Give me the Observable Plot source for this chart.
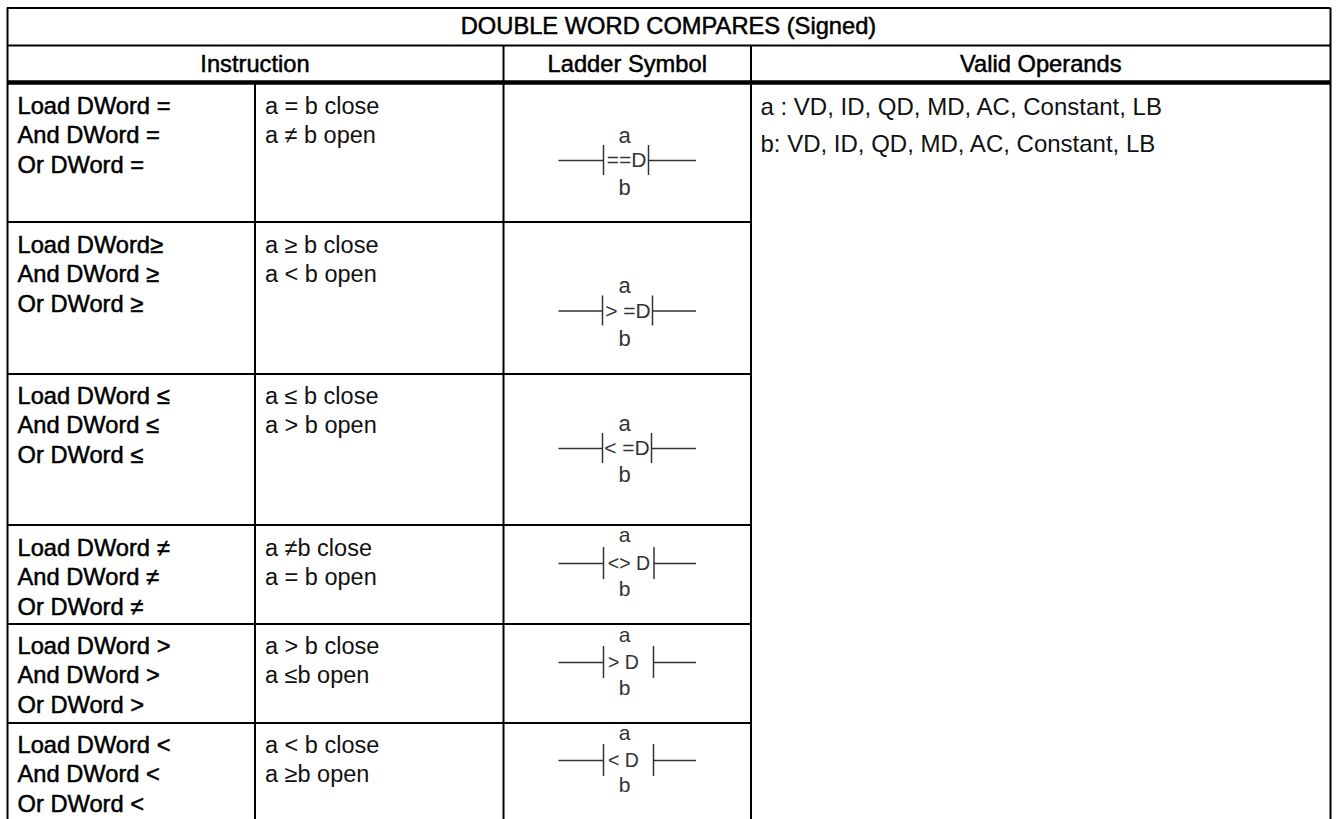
<!DOCTYPE html>
<html><head><meta charset="utf-8">
<script src="https://cdn.jsdelivr.net/npm/d3@7"></script>
<script src="https://cdn.jsdelivr.net/npm/@observablehq/plot@0.6"></script>
<style>html,body{margin:0;padding:0;background:#fff;overflow:hidden}svg{display:block}</style>
</head><body><div id="chart"></div>
<script>
const tableTitle = "DOUBLE WORD COMPARES (Signed)";
const headers = ["Instruction", "Ladder Symbol", "Valid Operands"];
const instructions = [
  ["Load DWord =", "And DWord =", "Or DWord ="],
  ["Load DWord≥", "And DWord ≥", "Or DWord ≥"],
  ["Load DWord ≤", "And DWord ≤", "Or DWord ≤"],
  ["Load DWord ≠", "And DWord ≠", "Or DWord ≠"],
  ["Load DWord >", "And DWord >", "Or DWord >"],
  ["Load DWord <", "And DWord <", "Or DWord <"]
];
const conditions = [
  ["a = b close", "a ≠ b open"],
  ["a ≥ b close", "a < b open"],
  ["a ≤ b close", "a > b open"],
  ["a ≠b close", "a = b open"],
  ["a > b close", "a ≤b open"],
  ["a < b close", "a ≥b open"]
];
const ladderSymbols = ["==D", "> =D", "< =D", "<> D", "> D", "< D"];
const operands = ["a : VD, ID, QD, MD, AC, Constant, LB", "b: VD, ID, QD, MD, AC, Constant, LB"];

// table layout: pixel edges of grid lines and offsets inside cells
const colEdges = [7, 254.5, 503, 750.5, 1330];
const rowEdges = [7.5, 45, 82, 221.5, 373.5, 524.5, 623.5, 722.5, 822];
const textTop = [24, 23.5, 22.5, 23.5, 22.5, 22.5];
const wireAt = [78, 89, 74.5, 38.5, 38.5, 37.5];
const barHalf = [15, 15, 15, 16, 16, 16];
const letterA = [53.5, 64, 50, 10.5, 11, 10];
const letterB = [105, 116.5, 100.5, 64, 64, 62];
const barLeft = [100, 99, 99, 100, 100, 100];
const barRight = [145, 149, 148, 150.5, 150, 150];
const symbolMid = [123, 124.5, 123.5, 125.5, 120, 120];
const symbolSize = [21, 21, 21, 19.5, 19.5, 19.5];
const letterSize = [22, 22, 22, 21, 21, 21];
const letterX = 121;
const wireStart = 55.5, wireEnd = 193;

const LINE = 29.3;
const rowAt = (r, px) => r + px / (rowEdges[r + 1] - rowEdges[r]);
const colAt = (c, px) => c + px / (colEdges[c + 1] - colEdges[c]);
const ladderX = px => colAt(2, px);

const FONT = "Liberation Sans, Arial, sans-serif";
const textBold = {fontFamily: FONT, fontSize: 23.7, fill: "#000", stroke: "#000", strokeWidth: 0.5};
const textPlain = {fontFamily: FONT, fontSize: 23.5, fill: "#111"};
const symbolText = {fontFamily: FONT, fill: "#333"};

const rows = d3.range(6);
const instructionLines = rows.flatMap(r => instructions[r].map((t, i) => ({t, px: 10, y: rowAt(r + 2, textTop[r] + i * LINE)})));
const conditionLines = rows.flatMap(r => conditions[r].map((t, i) => ({t, px: 10, y: rowAt(r + 2, textTop[r] + i * LINE)})));
const operandLines = operands.map((t, i) => ({t, y: rowAt(2, 24.5 + i * 37)}));
const headerCells = [
  {t: headers[0], x: 1, y: 1.5},
  {t: headers[1], x: 2.5, y: 1.5},
  {t: headers[2], x: 3.5, y: 1.5}
];

const hLines = [
  {y: 0, x1: 0, x2: 4, w: 2}, {y: 1, x1: 0, x2: 4, w: 2}, {y: 2, x1: 0, x2: 4, w: 4.5},
  {y: 3, x1: 0, x2: 3, w: 2}, {y: 4, x1: 0, x2: 3, w: 2}, {y: 5, x1: 0, x2: 3, w: 2},
  {y: 6, x1: 0, x2: 3, w: 2}, {y: 7, x1: 0, x2: 3, w: 2}
];
const vLines = [
  {x: 0, y1: 0, y2: 8}, {x: 4, y1: 0, y2: 8}, {x: 1, y1: 2, y2: 8},
  {x: 2, y1: 1, y2: 8}, {x: 3, y1: 1, y2: 8}
];

const wires = rows.flatMap(r => [
  {x1: ladderX(wireStart), x2: ladderX(barLeft[r]), y: rowAt(r + 2, wireAt[r])},
  {x1: ladderX(barRight[r]), x2: ladderX(wireEnd), y: rowAt(r + 2, wireAt[r])}
]);
const bars = rows.flatMap(r => [barLeft[r], barRight[r]].map(px => ({
  x: ladderX(px), y1: rowAt(r + 2, wireAt[r] - barHalf[r]), y2: rowAt(r + 2, wireAt[r] + barHalf[r])
})));
const symbols = rows.map(r => ({t: ladderSymbols[r], x: ladderX(symbolMid[r]), y: rowAt(r + 2, wireAt[r]), s: symbolSize[r]}));
const letters = rows.flatMap(r => [
  {t: "a", x: ladderX(letterX), y: rowAt(r + 2, letterA[r]), s: letterSize[r]},
  {t: "b", x: ladderX(letterX), y: rowAt(r + 2, letterB[r]), s: letterSize[r]}
]);

const plot = Plot.plot({
  width: 1336, height: 819,
  marginTop: 0, marginRight: 0, marginBottom: 0, marginLeft: 0,
  style: {background: "#fff"},
  x: {type: "linear", domain: d3.range(colEdges.length), range: colEdges, axis: null},
  y: {type: "linear", domain: d3.range(rowEdges.length), range: rowEdges, axis: null},
  marks: [
    Plot.ruleY(hLines, {y: "y", x1: "x1", x2: "x2", stroke: "#000", strokeWidth: "w"}),
    Plot.ruleX(vLines, {x: "x", y1: "y1", y2: "y2", stroke: "#000", strokeWidth: 2}),
    Plot.text([tableTitle], {x: () => colAt(2, 165), y: () => 0.5, text: d => d, ...textBold}),
    Plot.text(headerCells, {x: "x", y: "y", text: "t", ...textBold}),
    Plot.text(instructionLines, {x: d => colAt(0, d.px), y: "y", text: "t", textAnchor: "start", ...textBold}),
    Plot.text(conditionLines, {x: d => colAt(1, d.px), y: "y", text: "t", textAnchor: "start", ...textPlain}),
    Plot.text(operandLines, {x: () => colAt(3, 9.5), y: "y", text: "t", textAnchor: "start", ...textPlain, fontSize: 24}),
    Plot.ruleY(wires, {y: "y", x1: "x1", x2: "x2", stroke: "#333", strokeWidth: 1.5}),
    Plot.ruleX(bars, {x: "x", y1: "y1", y2: "y2", stroke: "#333", strokeWidth: 1.5}),
    Plot.text(symbols, {x: "x", y: "y", text: "t", fontSize: "s", ...symbolText}),
    Plot.text(letters, {x: "x", y: "y", text: "t", fontSize: "s", ...symbolText})
  ]
});
document.getElementById("chart").append(plot);
</script></body></html>
